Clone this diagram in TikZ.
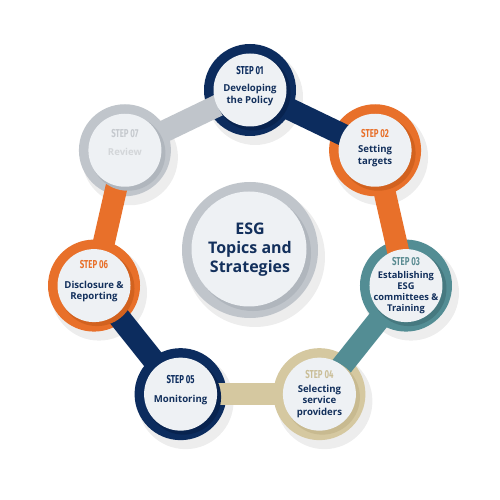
\documentclass[tikz,border=0pt]{standalone}
\usepackage{fontspec}
\setmainfont{Open Sans}
\newfontfamily\stepfont[FakeStretch=0.68]{Fira Sans}
\usetikzlibrary{calc}
\definecolor{navy}{HTML}{0C2C5E}
\definecolor{navyd}{HTML}{08234F}
\definecolor{orng}{HTML}{E8702A}
\definecolor{orngd}{HTML}{D2621F}
\definecolor{tealc}{HTML}{538D94}
\definecolor{teald}{HTML}{467980}
\definecolor{beige}{HTML}{D5C8A0}
\definecolor{beiged}{HTML}{C8BA90}
\definecolor{grayc}{HTML}{C0C5CB}
\definecolor{grayd}{HTML}{B0B6BD}
\definecolor{disc}{HTML}{EEF1F4}
\definecolor{txt}{HTML}{13305C}
\definecolor{revlbl}{HTML}{C5C9CE}
\definecolor{revtxt}{HTML}{D3D6D9}
\tikzset{
  ringbox/.style={circle, minimum size=92pt, inner sep=0pt, draw=none},
  discbox/.style={circle, minimum size=73pt, inner sep=0pt, fill=disc, draw=none},
  barline/.style={line width=22pt},
  barshade/.style={line width=9pt},
  steplbl/.style={font=\stepfont\bfseries\fontsize{11.5}{12}\selectfont, inner sep=0pt},
  body/.style={font=\bfseries\fontsize{9.6}{11.6}\selectfont, text=txt, align=center, inner sep=0pt},
  dropshadow/.style={fill=black, opacity=0.07},
}
\begin{document}
\begin{tikzpicture}[x=1pt,y=1pt]
\useasboundingbox (-250,-250) rectangle (250,250);
\fill[white] (-250,-250) rectangle (250,250);
% centres of the seven steps
\coordinate (c1) at (90:160);
\coordinate (c2) at (38.571:160);
\coordinate (c3) at (-12.857:160);
\coordinate (c4) at (-64.286:160);
\coordinate (c5) at (-115.714:160);
\coordinate (c6) at (-167.143:160);
\coordinate (c7) at (141.429:160);
\coordinate (c0) at (0,0);
% soft shadows
\foreach \k in {1,...,7}{
  \fill[dropshadow] ($(c\k)+(5,-7)$) circle (48);
}
\fill[dropshadow] ($(c0)+(5,-7)$) circle (70);
% rings
\node[ringbox, fill=navy] (r1) at (c1) {};
\node[ringbox, fill=orng] (r2) at (c2) {};
\node[ringbox, fill=tealc] (r3) at (c3) {};
\node[ringbox, fill=beige] (r4) at (c4) {};
\node[ringbox, fill=navy] (r5) at (c5) {};
\node[ringbox, fill=orng] (r6) at (c6) {};
\node[ringbox, fill=grayc] (r7) at (c7) {};
\node[circle, minimum size=136pt, inner sep=0pt, fill=grayc] (r0) at (c0) {};
% connectors
\draw[barline, navy] (r1.center) -- (r2.center);
\draw[barshade, navyd] ($(r1.center)!6.5!-90:(r2.center)$) -- ($(r2.center)!6.5!90:(r1.center)$);
\draw[barline, orng] (r2.center) -- (r3.center);
\draw[barshade, orngd] ($(r2.center)!6.5!90:(r3.center)$) -- ($(r3.center)!6.5!-90:(r2.center)$);
\draw[barline, tealc] (r3.center) -- (r4.center);
\draw[barshade, teald] ($(r3.center)!6.5!90:(r4.center)$) -- ($(r4.center)!6.5!-90:(r3.center)$);
\draw[barline, beige] (r4.center) -- (r5.center);
\draw[barshade, beiged] ($(r4.center)!6.5!90:(r5.center)$) -- ($(r5.center)!6.5!-90:(r4.center)$);
\draw[barline, navy] (r5.center) -- (r6.center);
\draw[barshade, navyd] ($(r5.center)!6.5!90:(r6.center)$) -- ($(r6.center)!6.5!-90:(r5.center)$);
\draw[barline, orng] (r6.center) -- (r7.center);
\draw[barshade, orngd] ($(r6.center)!6.5!-90:(r7.center)$) -- ($(r7.center)!6.5!90:(r6.center)$);
\draw[barline, grayc] (r7.center) -- (r1.center);
\draw[barshade, grayd] ($(r7.center)!6.5!-90:(r1.center)$) -- ($(r1.center)!6.5!90:(r7.center)$);
% inner shadows under the discs
\fill[navyd] ($(c1)+(3,-3)$) circle (37.5);
\fill[orngd] ($(c2)+(3,-3)$) circle (37.5);
\fill[teald] ($(c3)+(3,-3)$) circle (37.5);
\fill[beiged] ($(c4)+(3,-3)$) circle (37.5);
\fill[navyd] ($(c5)+(3,-3)$) circle (37.5);
\fill[orngd] ($(c6)+(3,-3)$) circle (37.5);
\fill[grayd] ($(c7)+(3,-3)$) circle (37.5);
\fill[grayd] ($(c0)+(3,-3)$) circle (58);
% discs
\node[discbox] (d1) at (c1) {};
\node[discbox] (d2) at (c2) {};
\node[discbox] (d3) at (c3) {};
\node[discbox] (d4) at (c4) {};
\node[discbox] (d5) at (c5) {};
\node[discbox] (d6) at (c6) {};
\node[discbox] (d7) at (c7) {};
\node[circle, minimum size=115pt, inner sep=0pt, fill=disc] (d0) at ($(c0)+(-1,1)$) {};
% texts
\node[steplbl, text=navy] (s1) at ($(c1)+(0,19)$) {STEP 01};
\node[body] (t1) at ($(c1)+(0,-5)$) {Developing\\the Policy};
\node[steplbl, text=orng] (s2) at ($(c2)+(0,17)$) {STEP 02};
\node[body] (t2) at ($(c2)+(0,-6)$) {Setting\\targets};
\node[steplbl, text=tealc!85!gray] (s3) at ($(c3)+(0,24)$) {STEP 03};
\node[body, font=\bfseries\fontsize{9.3}{11.3}\selectfont] (t3) at ($(c3)+(0,-7)$) {Establishing\\ESG\\committees \&\\Training};
\node[steplbl, text=beige!95!black] (s4) at ($(c4)+(0,20)$) {STEP 04};
\node[body] (t4) at ($(c4)+(0,-7)$) {Selecting\\service\\providers};
\node[steplbl, text=navy] (s5) at ($(c5)+(0,15)$) {STEP 05};
\node[body] (t5) at ($(c5)+(0,-6)$) {Monitoring};
\node[steplbl, text=orng] (s6) at ($(c6)+(0,21)$) {STEP 06};
\node[body] (t6) at ($(c6)+(0,-6)$) {Disclosure \&\\Reporting};
\node[steplbl, text=revlbl] (s7) at ($(c7)+(0,17)$) {STEP 07};
\node[body, text=revtxt] (t7) at ($(c7)+(0,-2)$) {Review};
\node[body, font=\bfseries\fontsize{16}{19}\selectfont] (t0) at (c0) {ESG\\Topics and\\Strategies};
\end{tikzpicture}
\end{document}
